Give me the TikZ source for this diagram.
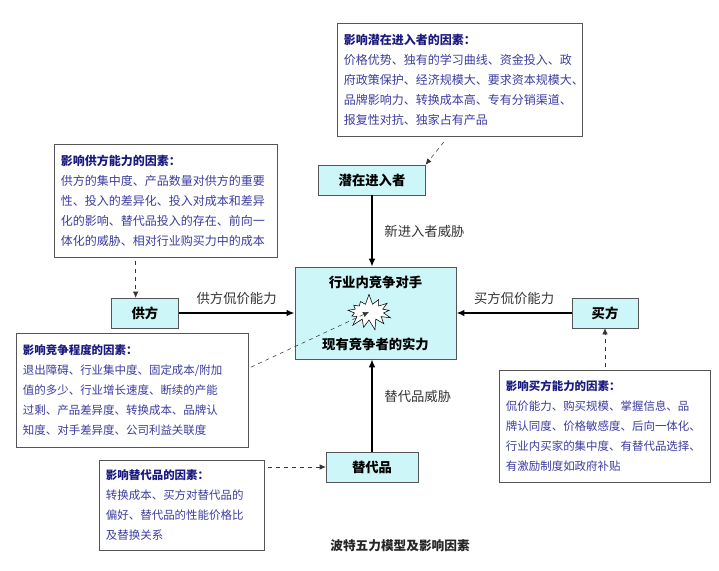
\documentclass[tikz,border=0pt]{standalone}
\usepackage{fontspec}
\setmainfont{Noto Sans CJK SC}
\usetikzlibrary{arrows.meta,positioning,shapes.symbols}
\definecolor{cyanfill}{HTML}{CCF6F8}
\definecolor{boxline}{HTML}{555555}
\definecolor{headblue}{HTML}{1A1A80}
\definecolor{bodyblue}{HTML}{3C3CA0}
\definecolor{labelgray}{HTML}{333333}

\begin{document}
\begin{tikzpicture}[
  x=0.75pt,y=-0.75pt,
  factor/.style={draw=boxline,fill=white,anchor=north west,align=left,
                 inner xsep=5pt,inner ysep=0pt,text=bodyblue,
                 font=\fontsize{8.6}{15}\selectfont},
  force/.style={draw=boxline,fill=cyanfill,minimum height=22.5pt,
                font=\fontsize{10}{12}\selectfont\bfseries},
  power/.style={text=labelgray,font=\fontsize{10}{12}\selectfont},
  threat/.style={-{Latex[length=6pt,width=5pt]},line width=2pt,draw=black},
  hint/.style={-{Latex[length=4.5pt,width=4pt]},dashed,thin,draw=black!80}]
\useasboundingbox (0,0) rectangle (719,571);
% factor boxes
\node[factor,font=\fontsize{9}{15}\selectfont,text width=174pt,minimum width=183pt,minimum height=85pt] (entfac) at (337,23)
  {{\color{headblue}\bfseries 影响潜在进入者的因素：}\\
   价格优势、独有的学习曲线、资金投入、政\\
   府政策保护、经济规模大、要求资本规模大、\\
   品牌影响力、转换成本高、专有分销渠道、\\
   报复性对抗、独家占有产品};
\node[factor,font=\fontsize{9}{15}\selectfont,text width=157pt,minimum width=167pt,minimum height=85pt] (supfac) at (54,144)
  {{\color{headblue}\bfseries 影响供方能力的因素：}\\
   供方的集中度、产品数量对供方的重要\\
   性、投入的差异化、投入对成本和差异\\
   化的影响、替代品投入的存在、前向一\\
   体化的威胁、相对行业购买力中的成本};
\node[factor,text width=164pt,minimum width=174pt,minimum height=85.5pt] (comfac) at (16,333)
  {{\color{headblue}\bfseries 影响竞争程度的因素：}\\
   退出障碍、行业集中度、固定成本/附加\\
   值的多少、行业增长速度、断续的产能\\
   过剩、产品差异度、转换成本、品牌认\\
   知度、对手差异度、公司利益关联度};
\node[factor,text width=148pt,minimum width=158pt,minimum height=84pt] (buyfac) at (499,370)
  {{\color{headblue}\bfseries 影响买方能力的因素：}\\
   侃价能力、购买规模、掌握信息、品\\
   牌认同度、价格敏感度、后向一体化、\\
   行业内买家的集中度、有替代品选择、\\
   有激励制度如政府补贴};
\node[factor,text width=114pt,minimum width=124pt,minimum height=67.5pt] (subfac) at (99,460)
  {{\color{headblue}\bfseries 影响替代品的因素：}\\
   转换成本、买方对替代品的\\
   偏好、替代品的性能价格比\\
   及替换关系};
% five forces
\node[force,minimum width=121pt,minimum height=69pt] (core) at (375.5,313) {};
\node[force,draw=none,fill=none,below=0pt of core.north] (rival) {行业内竞争对手};
\node[force,draw=none,fill=none,above=0pt of core.south] (strength) {现有竞争者的实力};
\node[starburst,draw=black,fill=white,thin,random starburst=7,starburst points=13,
      starburst point height=8pt,minimum width=38pt,minimum height=28pt,inner sep=0pt] (star) at (369,312) {};
\node[force,minimum width=80pt] (entrant) at (372,180) {潜在进入者};
\node[force,minimum width=50pt] (supplier) at (145,313) {供方};
\node[force,minimum width=49.5pt] (buyer) at (605,313) {买方};
\node[force,minimum width=69pt] (subst) at (372,467) {替代品};
% solid threats
\draw[threat] (entrant.south) -- node[power,right=5pt,pos=.5] (newthreat) {新进入者威胁} (entrant.south |- core.north);
\draw[threat] (supplier.east) -- node[power,above=2pt] (suppower) {供方侃价能力} (core.west);
\draw[threat] (buyer.west) -- node[power,above=2pt] (buypower) {买方侃价能力} (core.east);
\draw[threat] (subst.north) -- node[power,right=5pt,pos=.6] (subthreat) {替代品威胁} (subst.north |- core.south);
% dashed hints
\draw[hint,shorten <=5pt] ([xshift=-9pt]entfac.south) -- (entrant.north east);
\draw[hint,shorten <=2pt] ([xshift=-7pt]supplier.north |- supfac.south) -- ([xshift=-7pt]supplier.north);
\draw[hint,shorten <=2pt] (buyer.south |- buyfac.north) -- (buyer.south);
\draw[hint,shorten <=2pt] (subfac.east |- subst) -- (subst.west);
\draw[hint,shorten <=2pt] ([yshift=16.5pt]comfac.east) -- (star.center);
% caption
\node[font=\fontsize{9.5}{12}\selectfont\bfseries,text=black!85] (caption) at (400,546) {波特五力模型及影响因素};
\end{tikzpicture}
\end{document}
